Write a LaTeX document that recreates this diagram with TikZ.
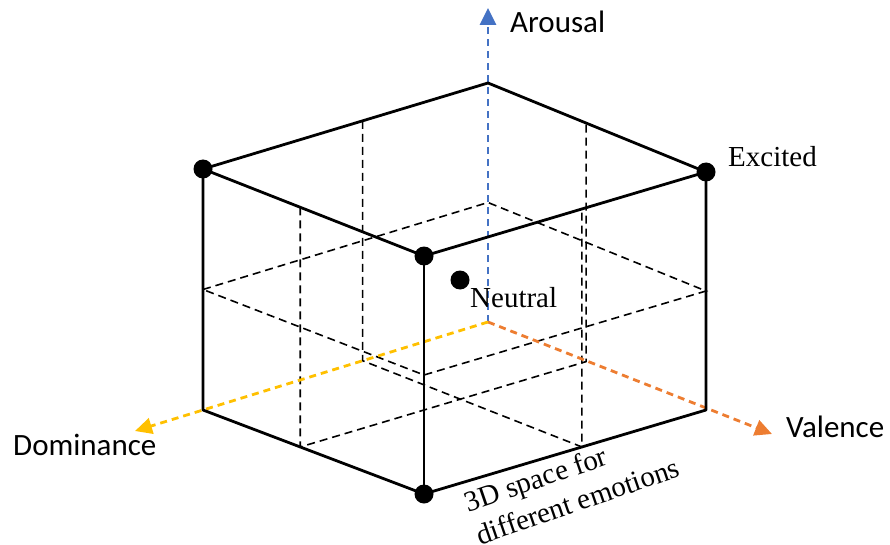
\documentclass[tikz,border=0pt]{standalone}
\usepackage{fontspec}
\setmainfont{Liberation Serif}
\newfontfamily\calib{Carlito}
\usepackage{tikz}
\usetikzlibrary{arrows.meta, calc, positioning}
\definecolor{arousalblue}{RGB}{68,114,196}
\definecolor{valenceorange}{RGB}{237,125,49}
\definecolor{dominanceyellow}{RGB}{255,192,0}
\tikzstyle{edge} = [line width=2.8pt, line join=round]
\tikzstyle{grid} = [line width=1.6pt, dash pattern=on 8pt off 5pt]
\tikzstyle{axis} = [line width=2.8pt, dash pattern=on 7pt off 5pt, -{Triangle[length=17pt, width=16pt]}]
\tikzstyle{dot} = [circle, fill=black, inner sep=0pt, minimum size=19pt]
\tikzstyle{axislabel} = [font=\calib\fontsize{31}{37}\selectfont, inner sep=0pt]
\tikzstyle{emolabel} = [font=\fontsize{29}{34.5}\selectfont, inner sep=0pt]

\begin{document}
\begin{tikzpicture}[x=1pt, y=-1pt]
  \useasboundingbox (0,0) rectangle (890,545);
  % cube corners
  \coordinate (TB) at (488,83);
  \coordinate (TL) at (203,169);
  \coordinate (TF) at (424,256);
  \coordinate (TR) at (706,172);
  \coordinate (O) at (488,322);
  \coordinate (BL) at (203,410);
  \coordinate (BF) at (424,494);
  \coordinate (BR) at (706,410);
  % axis tips
  \coordinate (arousaltip) at (488,8);
  \coordinate (valencetip) at (772,434);
  \coordinate (dominancetip) at (135,431);
  % middle cuts
  \coordinate (Lm) at ($(TL)!0.5!(BL)$);
  \coordinate (Bm) at ($(TB)!0.5!(O)$);
  \coordinate (Rm) at ($(TR)!0.5!(BR)$);
  \coordinate (Fm) at ($(TF)!0.5!(BF)$);
  \coordinate (A1) at ($(TL)!0.44!(TF)$);
  \coordinate (A2) at ($(BL)!0.44!(BF)$);
  \coordinate (A3) at ($(O)!0.45!(BR)$);
  \coordinate (A4) at ($(TB)!0.45!(TR)$);
  \coordinate (B1) at ($(TB)!0.44!(TL)$);
  \coordinate (B2) at ($(O)!0.44!(BL)$);
  \coordinate (B3) at ($(BR)!0.44!(BF)$);
  \coordinate (B4) at ($(TR)!0.44!(TF)$);

  \draw[grid] (Lm) -- (Bm) -- (Rm) -- (Fm) -- cycle;
  \draw[grid] (A1) -- (A2) -- (A3) -- (A4);
  \draw[grid] (B1) -- (B2) -- (B3) -- (B4);

  \draw[axis, arousalblue] (O) -- (arousaltip);
  \draw[axis, valenceorange] (O) -- (valencetip);
  \draw[axis, dominanceyellow] (O) -- (dominancetip);

  \draw[edge] (TL) -- (TB) -- (TR) -- (TF) -- cycle;
  \draw[edge] (TL) -- (BL) -- (BF) -- (BR) -- (TR);
  \draw[edge] (TF) -- (BF);

  \node[dot] (dTL) at (TL) {};
  \node[dot] (dTF) at (TF) {};
  \node[dot] (dTR) at (TR) {};
  \node[dot] (dBF) at (BF) {};
  \node[dot] (neutral) at (460,280) {};

  \node[axislabel, anchor=base west] (arousal) at (510,33) {Arousal};
  \node[axislabel, anchor=base west] (dominance) at (13,455) {Dominance};
  \node[axislabel, anchor=base west] (valence) at (786,437) {Valence};
  \node[emolabel, anchor=base west] (excited) at (728,167) {Excited};
  \node[emolabel, anchor=base west] (neutrallabel) at (470,307) {Neutral};
  \node[emolabel, anchor=north west, align=left, rotate=19] (space) at (462,493) {3D space for\\different emotions};
\end{tikzpicture}
\end{document}
